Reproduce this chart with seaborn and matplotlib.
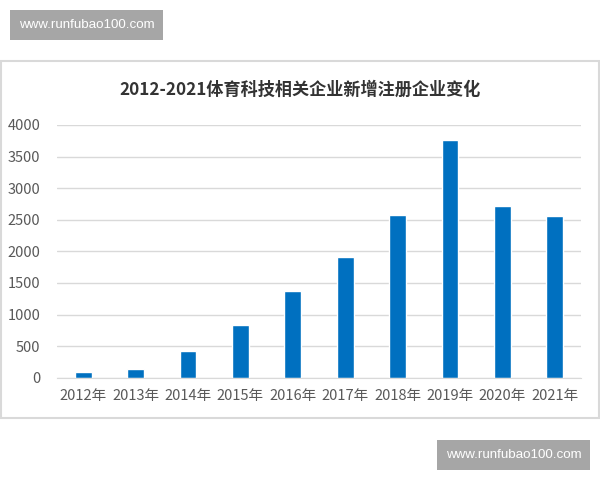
import matplotlib.pyplot as plt
import matplotlib.patches as patches
import seaborn as sns
import pandas as pd

years = ['2012年', '2013年', '2014年', '2015年', '2016年',
         '2017年', '2018年', '2019年', '2020年', '2021年']
counts = [88, 138, 428, 830, 1375, 1915, 2580, 3757, 2722, 2560]
title = '2012-2021体育科技相关企业新增注册企业变化'
watermark = 'www.runfubao100.com'

sns.set_style('white')
plt.rcParams['font.family'] = ['Noto Sans CJK SC', 'DejaVu Sans']

df = pd.DataFrame({'year': years, 'count': counts})

fig = plt.figure(figsize=(6, 4.8), dpi=100)
W, H = 600, 480

# outer chart frame
fig.patches.append(patches.Rectangle((1 / W, 1 - 418 / H), 598 / W, 357 / H,
                                     transform=fig.transFigure, fill=False,
                                     edgecolor='#D9D9D9', linewidth=1.5))
# watermark boxes
for x0, y0 in [(10, 10), (437, 440)]:
    fig.patches.append(patches.Rectangle((x0 / W, 1 - (y0 + 30) / H), 153 / W, 30 / H,
                                         transform=fig.transFigure,
                                         facecolor='#A6A6A6', edgecolor='none'))
    fig.text((x0 + 76.5) / W, 1 - (y0 + 15) / H, watermark, color='white',
             fontsize=9.6, ha='center', va='center', family='Liberation Sans')

ax = fig.add_axes([57 / W, 1 - 377.7 / H, 524 / W, 252.7 / H])
sns.barplot(data=df, x='year', y='count', color='#0070C0', width=0.32,
            saturation=1, ax=ax)
ax.set_ylim(0, 4000)
ax.set_xlim(-0.5, 9.5)
ax.set_yticks(range(0, 4001, 500))
ax.yaxis.grid(True, color='#D9D9D9', linewidth=1)
ax.set_axisbelow(True)
for s in ['left', 'right', 'top']:
    ax.spines[s].set_visible(False)
ax.spines['bottom'].set_color('#D9D9D9')
ax.tick_params(axis='both', length=0, labelsize=10.5, colors='#595959', pad=8)
ax.tick_params(axis='y', pad=12)
ax.set_xlabel('')
ax.set_ylabel('')

fig.text(0.5, 1 - 90 / H, title, ha='center', va='center', fontsize=12.3,
         fontweight='bold', color='#333333')

fig.savefig('out.png', dpi=100)
